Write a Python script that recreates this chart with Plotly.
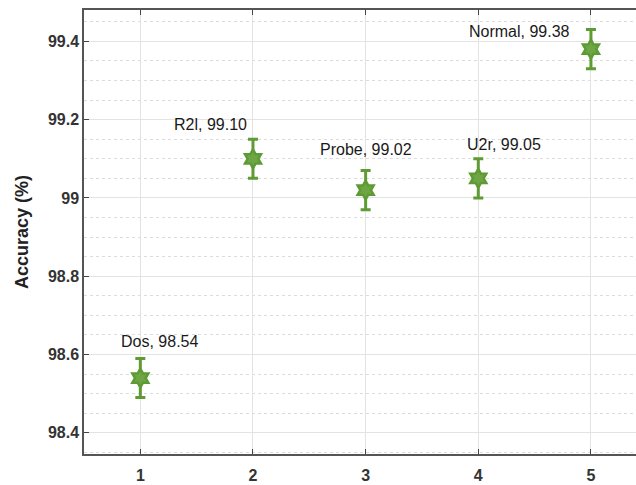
import plotly.graph_objects as go

x_vals = [1, 2, 3, 4, 5]
names = ["Dos", "R2l", "Probe", "U2r", "Normal"]
accuracy = [98.54, 99.10, 99.02, 99.05, 99.38]
err = [0.05, 0.05, 0.05, 0.05, 0.05]
label_text = ["Dos, 98.54", "R2l, 99.10", "Probe, 99.02", "U2r, 99.05", "Normal, 99.38"]
x_tick_text = ["1", "2", "3", "4", "5"]
y_ticks = [98.4, 98.6, 98.8, 99, 99.2, 99.4]
y_tick_text = ["98.4", "98.6", "98.8", "99", "99.2", "99.4"]

label_dx = [19, -42, 0, 26, -71]
label_dy = [37, 34, 41, 34, 18]

green = "#5e9b34"

fig = go.Figure()
fig.add_trace(go.Scatter(
    x=x_vals, y=accuracy, mode="markers",
    marker=dict(symbol="hexagram", size=14, color="#6fa645",
                line=dict(color=green, width=2.5)),
    error_y=dict(type="data", array=err, visible=True, color=green,
                 thickness=3, width=5),
    showlegend=False,
))

for xv, yv, t, dx, dy in zip(x_vals, accuracy, label_text, label_dx, label_dy):
    fig.add_annotation(x=xv, y=yv, text=t, showarrow=False,
                       xshift=dx, yshift=dy, xanchor="center", yanchor="middle",
                       font=dict(family="Liberation Sans, Arial", size=16, color="#1a1a1a"))

axis_font = dict(family="Liberation Sans, Arial", size=16, color="#333")

fig.update_xaxes(
    range=[0.5, 5.4], tickvals=x_vals, ticktext=["<b>%s</b>" % s for s in x_tick_text],
    tickfont=axis_font, ticks="inside", ticklen=5, tickcolor="#444",
    showline=True, linecolor="#555", linewidth=1.5, mirror="ticks",
    showgrid=True, gridcolor="#e3e3e3", gridwidth=1, zeroline=False,
    ticklabelstandoff=6,
)
fig.update_yaxes(
    range=[98.346, 99.48], tickvals=y_ticks, ticktext=["<b>%s</b>" % s for s in y_tick_text],
    tickfont=axis_font, ticks="inside", ticklen=5, tickcolor="#444",
    showline=True, linecolor="#555", linewidth=1.5,
    showgrid=True, gridcolor="#e3e3e3", gridwidth=1, zeroline=False,
    minor=dict(dtick=0.05, showgrid=True, gridcolor="#dcdcdc", griddash="dot", gridwidth=1, ticks=""),
    title=dict(text="<b>Accuracy (%)</b>", font=dict(family="Liberation Sans, Arial", size=18, color="#222"), standoff=15),
)

fig.update_layout(
    width=636, height=485,
    margin=dict(l=84, r=0, t=10, b=31),
    plot_bgcolor="white", paper_bgcolor="white",
)

fig.write_html("out.html")
